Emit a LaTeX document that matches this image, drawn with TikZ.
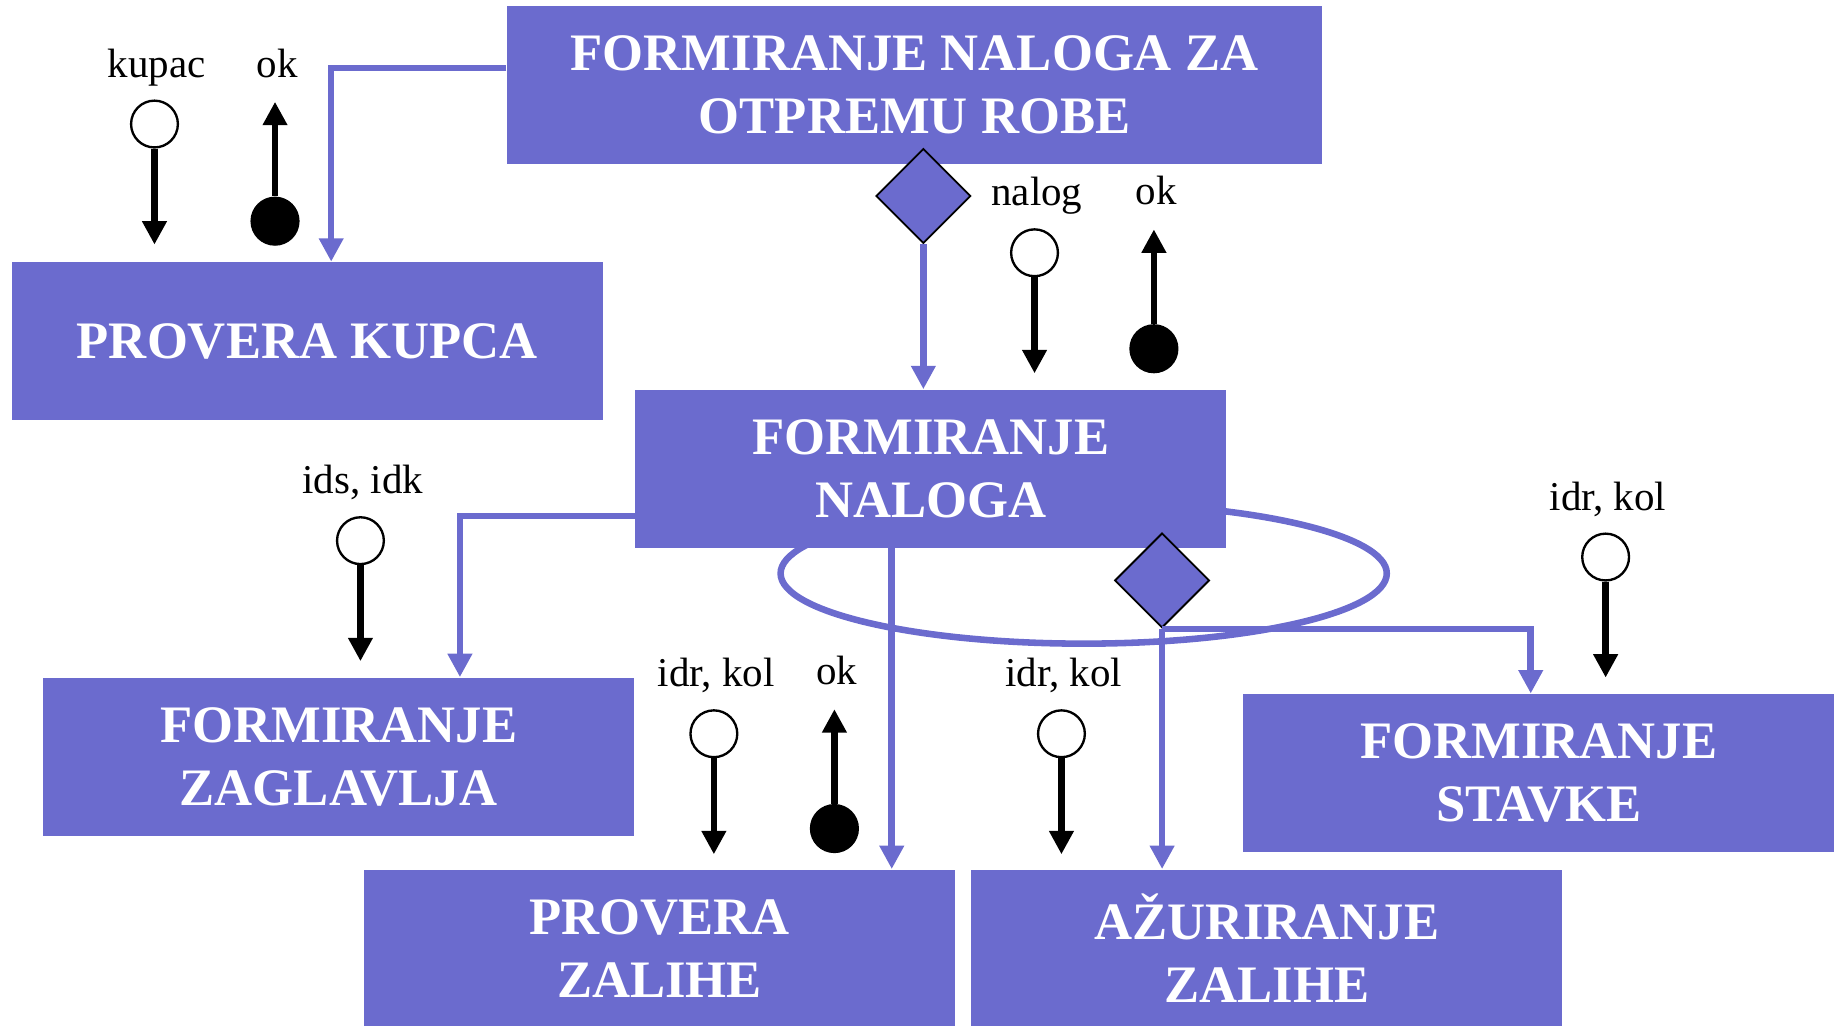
\documentclass[tikz,border=0pt]{standalone}
\usepackage{fontspec}
\setmainfont{Liberation Serif}
\usetikzlibrary{arrows.meta,shapes.geometric}
\definecolor{procblue}{RGB}{107,107,206}

\begin{document}
\begin{tikzpicture}[x=0.5pt, y=-0.5pt,
			every node/.style = {align=center, inner sep=0pt},
			proc/.style = {fill=procblue, text=white, minimum width=252.5pt, minimum height=67.5pt,
				font=\bfseries\fontsize{22.5}{27}\selectfont},
			sel/.style = {diamond, draw=black, line width=0.8pt, fill=procblue,
				minimum width=40.5pt, minimum height=40.5pt},
			tok/.style = {draw=procblue, line width=2.8pt, -{Triangle[length=10pt, width=10pt]}}]
			\tikzset{cpl/.style = {line width=2.8pt, -{Triangle[length=10pt, width=10pt]}},
				dat/.style = {circle, draw, line width=1pt, fill=white, minimum size=20pt},
				ctl/.style = {circle, fill=black, minimum size=21pt},
				lbl/.style = {anchor=base, font=\fontsize{17.5}{21}\selectfont}}
			\useasboundingbox (0,0) rectangle (1568,876);
			\draw[procblue, line width=2.8pt] (926,490) ellipse [x radius=129.5pt, y radius=30pt];
			\node[proc, minimum width=348.5pt] (otprema) at (781.5,72.5) {FORMIRANJE NALOGA ZA\\OTPREMU ROBE};
			\node[proc] (kupac) at (262.5,291.5) {PROVERA KUPCA};
			\node[proc] (nalog) at (795.5,400.5) {FORMIRANJE\\NALOGA};
			\node[proc] (zaglavlje) at (289.5,646.5) {FORMIRANJE\\ZAGLAVLJA};
			\node[proc] (zaliha) at (563.5,810.5) {PROVERA\\ZALIHE};
			\node[proc] (azuriranje) at (1082.5,810.5) {AŽURIRANJE\\ZALIHE};
			\node[proc] (stavka) at (1315,660.5) {FORMIRANJE\\STAVKE};
			\node[sel] (izbor) at (789,167.5) {};
			\node[sel] (iteracija) at (993,496) {};
			\draw[tok] (otprema.west |- 0,58) -| (283,0 |- kupac.north);
			\draw[tok] (izbor.south) -- (izbor.south |- nalog.north);
			\draw[tok] (nalog.west |- 0,441) -| (393,0 |- zaglavlje.north);
			\draw[tok] (762,0 |- nalog.south) -- (762,0 |- zaliha.north);
			\draw[tok] (iteracija.south) -- (iteracija.south |- azuriranje.north);
			\draw[tok] (iteracija.south) -| (1308,0 |- stavka.north);
			\foreach \x/\y/\txt/\nm in {132/106/kupac/a, 884/216/nalog/b, 308/462/{ids, idk}/c,
				1372/476/{idr, kol}/d, 610/627/{idr, kol}/e, 907/627/{idr, kol}/f} {
				\node[dat] (dat\nm) at (\x,\y) {};
				\node[lbl] (txt\nm) at (\x+2,\y-40) {\txt};
				\coordinate (kraj\nm) at (\x,\y+103);
				\draw[cpl] (dat\nm) -- (kraj\nm);
			}
			\foreach \x/\y/\nm in {235/189/a, 986/298/b, 713/708/c} {
				\node[ctl] (ctl\nm) at (\x,\y) {};
				\node[lbl] (ok\nm) at (\x+2,\y-123) {ok};
				\coordinate (vrh\nm) at (\x,\y-102);
				\draw[cpl] (ctl\nm) -- (vrh\nm);
			}
		\end{tikzpicture}
\end{document}
